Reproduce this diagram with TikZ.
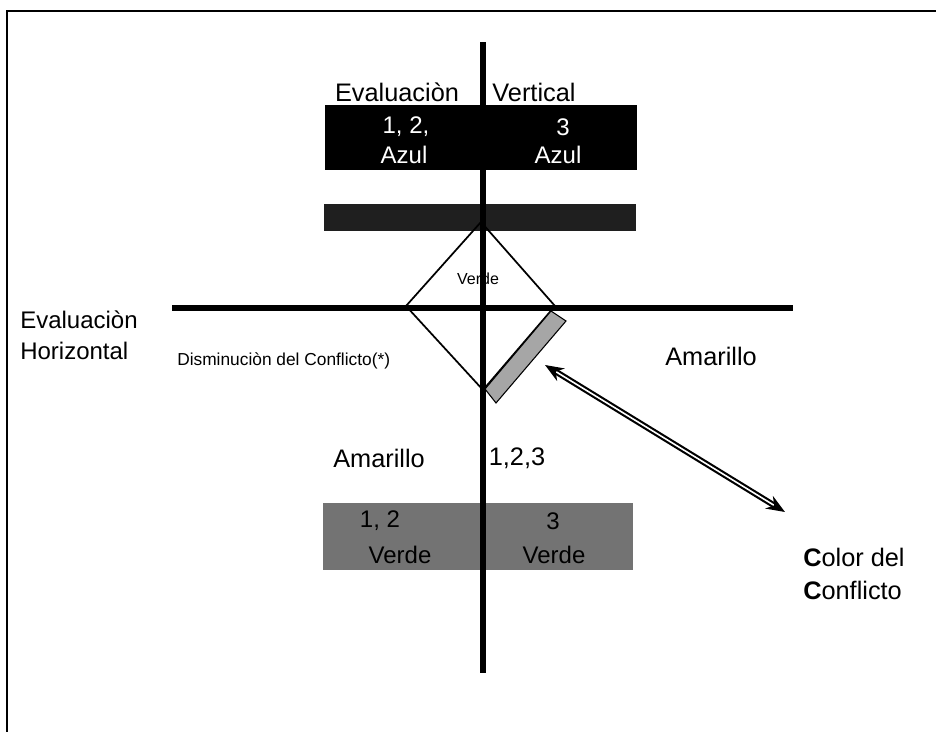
\documentclass[tikz,border=0pt]{standalone}
\usepackage{fontspec}
\setmainfont{Liberation Sans}
\usetikzlibrary{arrows.meta}

\tikzset{
  texto/.style={inner sep=0pt, font=\fontsize{19}{21}\selectfont},
  textobloque/.style={texto, font=\fontsize{18}{20}\selectfont},
  textochico/.style={inner sep=0pt, font=\fontsize{13}{15}\selectfont},
  eje/.style={line width=5pt},
}

\begin{document}
\begin{tikzpicture}[x=0.75pt, y=-0.75pt]
    \useasboundingbox (0,0) rectangle (936,732);

    % Dibuja el marco
    \draw[line width=1.2pt] (936,11) -- (7,11) -- (7,732);

    % Dibuja los bloques
    \fill[black] (325,105) rectangle (637,170);
    \fill[black!88] (324,204) rectangle (636,231);
    \fill[black!55] (323,503) rectangle (633,570);

    % Dibuja el rombo y la franja
    \draw[line width=1.3pt] (481,222) -- (555,306) -- (483,390) -- (406,306) -- cycle;
    \filldraw[fill=black!35, draw=black, line width=0.8pt]
        (551,311) -- (566,321) -- (496,403) -- (485,389) -- cycle;

    % Dibuja los ejes
    \coordinate (vArriba) at (483,42);
    \coordinate (vAbajo) at (483,673);
    \coordinate (hIzq) at (172,308);
    \coordinate (hDer) at (793,308);
    \draw[eje] (hIzq) -- (hDer);
    \draw[eje] (vArriba) -- (vAbajo);

    % Textos de arriba
    \node[texto] (evalV) at (397,92) {Evaluaciòn};
    \node[texto] (vertical) at (534,92) {Vertical};
    \node[textobloque, text=white] (azulA1) at (406,127) {1, 2,};
    \node[textobloque, text=white] (azulA2) at (404,155) {Azul};
    \node[textobloque, text=white] (azulB1) at (563,127) {3};
    \node[textobloque, text=white] (azulB2) at (558,155) {Azul};
    \node[inner sep=0pt, font=\fontsize{12}{14}\selectfont] (verdeRombo) at (478,279) {Verde};

    % Textos del medio
    \node[texto, anchor=west, font=\fontsize{18}{20}\selectfont] (evalH1) at (20,320) {Evaluaciòn};
    \node[texto, anchor=west, font=\fontsize{18}{20}\selectfont] (evalH2) at (20,351) {Horizontal};
    \node[textochico, anchor=west] (disminucion) at (177,361) {Disminuciòn del Conflicto(*)};
    \node[texto] (amarilloDer) at (711,356) {Amarillo};
    \node[texto] (amarilloIzq) at (379,458) {Amarillo};
    \node[texto] (todos) at (517,458) {1,2,3};

    % Textos de abajo
    \node[textobloque] (verdeA1) at (380,521) {1, 2};
    \node[textobloque] (verdeA2) at (400,555) {Verde};
    \node[textobloque] (verdeB1) at (553,521) {3};
    \node[textobloque] (verdeB2) at (554,555) {Verde};
    \node[texto, anchor=west] (color1) at (803,557) {\textbf{C}olor del};
    \node[texto, anchor=west] (color2) at (803,590) {\textbf{C}onflicto};

    % Flecha del color del conflicto
    \coordinate (flechaA) at (545,365);
    \coordinate (flechaB) at (785,512);
    \draw[line width=1.6pt, double=white, double distance=1.2pt,
          {Stealth[length=14pt, width=11pt]}-{Stealth[length=14pt, width=11pt]}] (flechaA) -- (flechaB);
\end{tikzpicture}
\end{document}
